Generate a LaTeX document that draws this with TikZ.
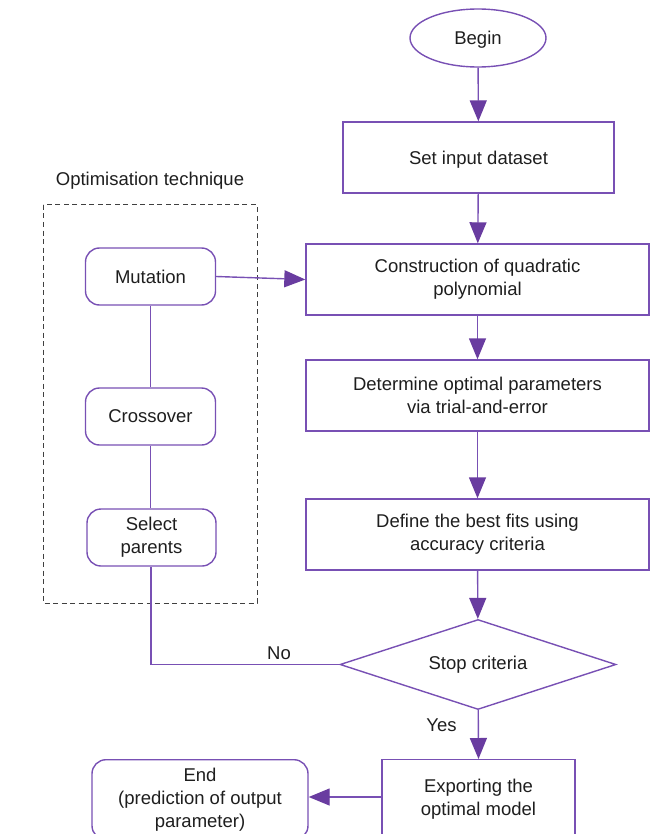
\documentclass[tikz,border=0pt]{standalone}
\usepackage{fontspec}
\setmainfont{Liberation Sans}
\usetikzlibrary{arrows.meta,shapes.geometric}
\definecolor{pline}{RGB}{120,80,180}
\definecolor{phead}{RGB}{105,60,160}
\definecolor{txt}{RGB}{30,30,30}
\tikzset{
  base/.style={draw=pline, line width=1.4pt, text=txt, align=center, font=\fontsize{18.5}{23}\selectfont, inner sep=0pt},
  procbox/.style={base, rectangle, minimum width=#1, minimum height=71pt},
  roundbox/.style={base, rectangle, rounded corners=14pt, minimum width=130pt, minimum height=57pt},
  conn/.style={draw=pline, line width=1.4pt},
  arr/.style={conn, -{Triangle[width=17pt,length=21pt,color=phead]}},
  lbl/.style={text=txt, font=\fontsize{18.5}{23}\selectfont, inner sep=0pt},
  oneline/.style={text depth=0pt}
}
\begin{document}
\begin{tikzpicture}[x=1pt,y=-1pt]
\useasboundingbox (0,0) rectangle (651,834);
\clip (0,0) rectangle (651,834);
% dashed group
\draw[line width=1pt, draw=black!75, dash pattern=on 5pt off 3.5pt] (43,205) rectangle (257,603);
\node[lbl] (opt) at (150,181) {Optimisation technique};
% main column
\node[base, oneline, ellipse, minimum width=136pt, minimum height=58pt] (begin) at (478,38) {Begin};
\node[procbox=271pt, oneline] (set) at (478.5,157.5) {Set input dataset};
\node[procbox=343pt] (cons) at (477.5,279.5) {Construction of quadratic\\polynomial};
\node[procbox=343pt] (det) at (477.5,395.5) {Determine optimal parameters\\via trial-and-error};
\node[procbox=343pt] (def) at (477.5,534.5) {Define the best fits using\\accuracy criteria};
\node[base, diamond, aspect=3.07, minimum width=276pt, minimum height=90pt] (stop) at (478,664.5) {Stop criteria};
\node[procbox=193pt, minimum height=80pt, anchor=north] (exp) at (478.5,759) {Exporting the\\optimal model};
\node[roundbox, minimum width=216pt, minimum height=80pt, anchor=north] (end) at (200,759) {End\\(prediction of output\\parameter)};
% group nodes
\node[roundbox, oneline] (mut) at (150.5,276.5) {Mutation};
\node[roundbox, oneline] (cross) at (150.5,416.5) {Crossover};
\node[roundbox, minimum width=129pt] (sel) at (151.5,537.5) {Select\\parents};
% connectors
\draw[arr] (begin) -- (set);
\draw[arr] (set) -- (cons);
\draw[arr] (cons) -- (det);
\draw[arr] (det) -- (def);
\draw[arr] (def) -- (stop);
\draw[arr] (stop) -- node[lbl, pos=0.3, left=21pt] {Yes} (exp.north);
\draw[arr] (exp.west |- 0,797) -- (end.east |- 0,797);
\draw[arr] (mut.east) -- (cons.west);
\draw[conn] (mut) -- (cross);
\draw[conn] (cross.south) -- (cross.south |- sel.north);
\coordinate (corner) at (151,664.5);
\draw[conn] (stop.west) -- node[lbl, pos=0.32, above=4pt] {No} (corner) -- (corner |- sel.south);
\end{tikzpicture}
\end{document}
